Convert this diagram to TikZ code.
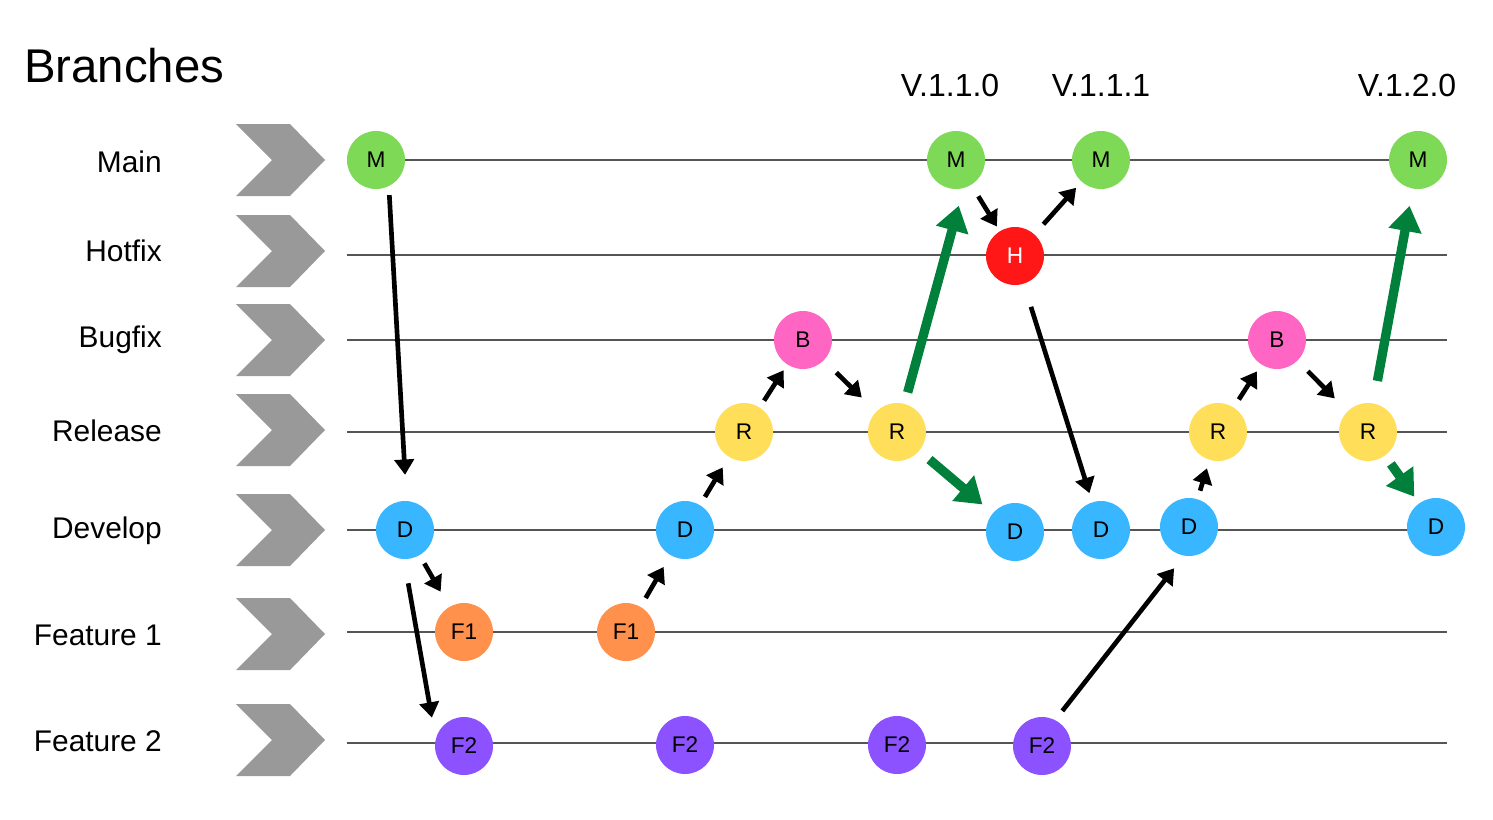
\documentclass[tikz,border=0pt]{standalone}
\usepackage{fontspec}
\setmainfont{Liberation Sans}
\usetikzlibrary{arrows.meta}
\definecolor{cgreen}{HTML}{7ED957}
\definecolor{cred}{HTML}{FF1616}
\definecolor{cpink}{HTML}{FF66C4}
\definecolor{cyellow}{HTML}{FFDE59}
\definecolor{cblue}{HTML}{38B6FF}
\definecolor{corange}{HTML}{FF914D}
\definecolor{cpurple}{HTML}{8C52FF}
\definecolor{agreen}{HTML}{00803A}
\definecolor{chev}{HTML}{999999}
\definecolor{lane}{HTML}{555555}
\begin{document}
\begin{tikzpicture}[x=0.75pt,y=-0.75pt,
  commit/.style={circle,inner sep=0pt,minimum size=43.5pt,font=\fontsize{17}{19}\selectfont},
  lanelabel/.style={anchor=east,inner sep=0pt,font=\fontsize{22.4}{26}\selectfont},
  verlabel/.style={inner sep=0pt,font=\fontsize{24}{28}\selectfont},
  lanerule/.style={draw=lane,line width=1.1pt},
  blk/.style={line width=3.5pt,-{Triangle[length=11.5pt,width=14.5pt]}},
  grn/.style={draw=agreen,line width=7pt,-{Triangle[length=19pt,width=24pt,fill=agreen]}}
]
\useasboundingbox (0,0) rectangle (1493,819);

% title
\node[anchor=west,inner sep=0pt,font=\fontsize{35.5}{40}\selectfont] (title) at (24,66) {Branches};

% chevrons
\foreach \cy in {160,251,340,430,530,634,740}{
  \fill[chev] (236,\cy-36) -- (290,\cy-36) -- (325,\cy) -- (290,\cy+36) -- (236,\cy+36) -- (272,\cy) -- cycle;
}

% lane labels
\node[lanelabel] (lmain) at (162,162) {Main};
\node[lanelabel] (lhot) at (162,251) {Hotfix};
\node[lanelabel] (lbug) at (162,340) {Bugfix};
\node[lanelabel] (lrel) at (162,431) {Release};
\node[lanelabel] (ldev) at (162,531) {Develop};
\node[lanelabel] (lf1) at (162,635) {Feature 1};
\node[lanelabel] (lf2) at (162,741) {Feature 2};

% lane lines
\foreach \ly in {160,255,340,432,530,632,743}{
  \draw[lanerule] (347,\ly) -- (1447,\ly);
}

% version labels
\node[verlabel] (v110) at (950,85) {V.1.1.0};
\node[verlabel] (v111) at (1101,85) {V.1.1.1};
\node[verlabel] (v120) at (1407,85) {V.1.2.0};

% commits
\node[commit,fill=cgreen] (M1) at (376,160) {M};
\node[commit,fill=cgreen] (M2) at (956,160) {M};
\node[commit,fill=cgreen] (M3) at (1101,160) {M};
\node[commit,fill=cgreen] (M4) at (1418,160) {M};
\node[commit,fill=cred,text=white] (H) at (1015,256) {H};
\node[commit,fill=cpink] (B1) at (803,340) {B};
\node[commit,fill=cpink] (B2) at (1277,340) {B};
\node[commit,fill=cyellow] (R1) at (744,432) {R};
\node[commit,fill=cyellow] (R2) at (897,432) {R};
\node[commit,fill=cyellow] (R3) at (1218,432) {R};
\node[commit,fill=cyellow] (R4) at (1368,432) {R};
\node[commit,fill=cblue] (D1) at (405,530) {D};
\node[commit,fill=cblue] (D2) at (685,530) {D};
\node[commit,fill=cblue] (D3) at (1015,532) {D};
\node[commit,fill=cblue] (D4) at (1101,530) {D};
\node[commit,fill=cblue] (D5) at (1189,527) {D};
\node[commit,fill=cblue] (D6) at (1436,527) {D};
\node[commit,fill=corange] (F1a) at (464,632) {F1};
\node[commit,fill=corange] (F1b) at (626,632) {F1};
\node[commit,fill=cpurple] (F2a) at (464,746) {F2};
\node[commit,fill=cpurple] (F2b) at (685,745) {F2};
\node[commit,fill=cpurple] (F2c) at (897,745) {F2};
\node[commit,fill=cpurple] (F2d) at (1042,746) {F2};

% arrows
\draw[blk,shorten <=6.6pt,shorten >=19.5pt] (M1.-64.5) -- (D1.87);
\draw[blk,shorten <=7pt,shorten >=13pt] (D1) -- (F1a);
\draw[blk,shorten <=18.3pt,shorten >=16.2pt] (D1.-92.6) -- (F2a.166.6);
\draw[blk,shorten <=7.5pt,shorten >=10pt] (F1b) -- (D2);
\draw[blk,shorten <=7pt,shorten >=9pt] (D2) -- (R1);
\draw[blk,shorten <=6pt,shorten >=5pt] (R1) -- (B1);
\draw[blk,shorten <=13pt,shorten >=15pt] (B1) -- (R2);
\draw[grn,shorten <=8.8pt,shorten >=13.5pt] (R2.75) -- (M2.-75);
\draw[grn,shorten <=10pt,shorten >=10pt] (R2) -- (D3);
\draw[blk,shorten <=10pt,shorten >=4pt] (M2) -- (H);
\draw[blk,shorten <=10pt,shorten >=6pt] (H) -- (M3);
\draw[blk,shorten <=18pt,shorten >=7pt] (H) -- (D4);
\draw[blk,shorten <=8.6pt,shorten >=11.9pt] (F2d.63.6) -- (D5.-100.3);
\draw[blk,shorten <=6.5pt,shorten >=6.5pt] (D5) -- (R3);
\draw[blk,shorten <=7pt,shorten >=6pt] (R3) -- (B2);
\draw[blk,shorten <=11pt,shorten >=13.5pt] (B2) -- (R4);
\draw[grn,shorten <=17pt,shorten >=13pt] (R4) -- (M4);
\draw[grn,shorten <=7.5pt,shorten >=6pt] (R4) -- (D6);
\end{tikzpicture}
\end{document}
